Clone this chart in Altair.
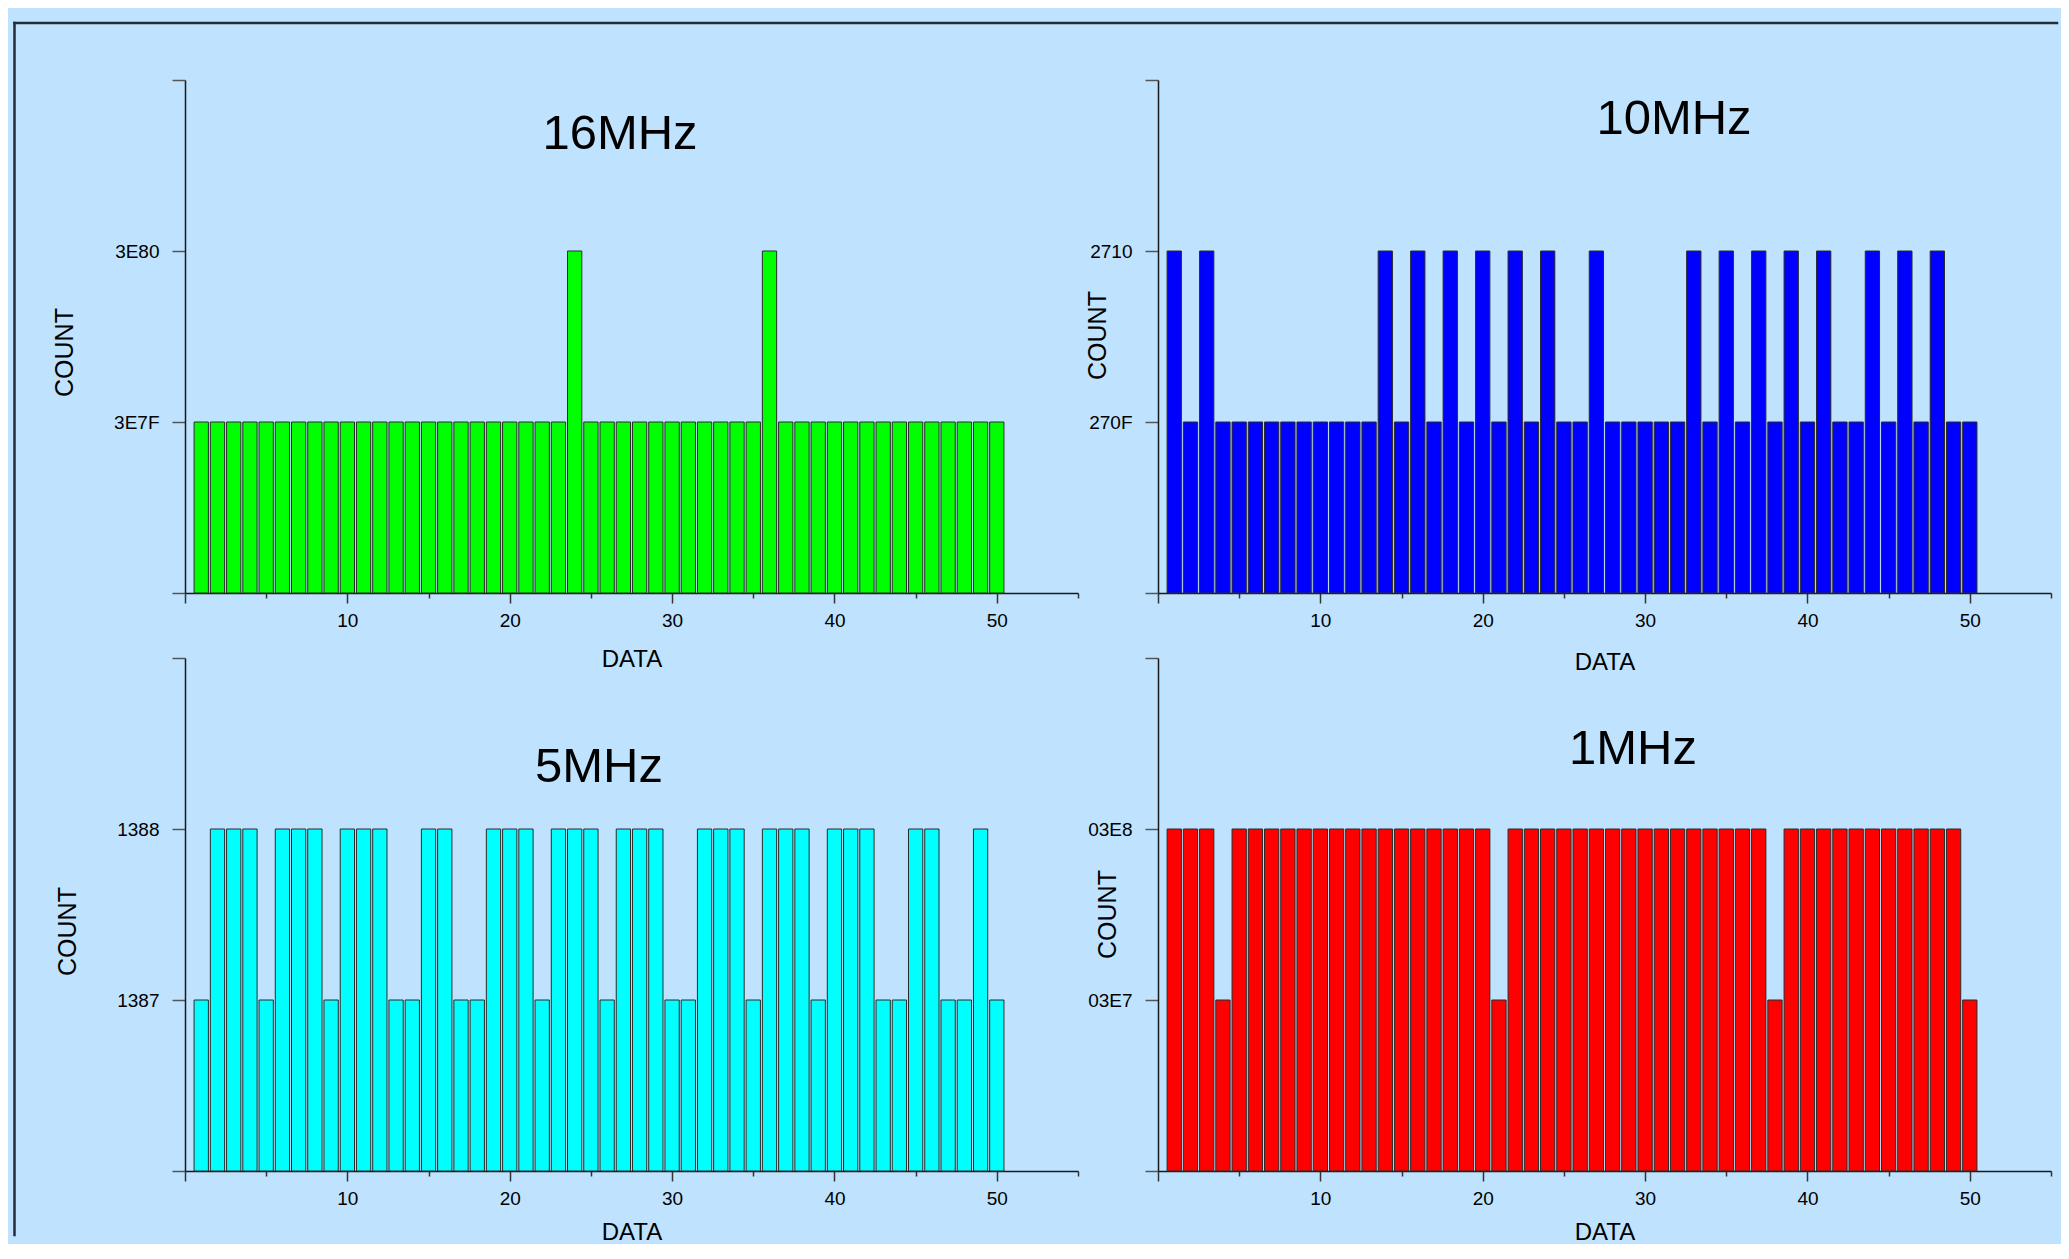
import altair as alt
import pandas as pd

# ---------------- data ----------------
data_x = list(range(1, 51))
panel_names = ["16MHz", "10MHz", "5MHz", "1MHz"]

counts_16mhz = [
    15999, 15999, 15999, 15999, 15999, 15999, 15999, 15999, 15999, 15999,
    15999, 15999, 15999, 15999, 15999, 15999, 15999, 15999, 15999, 15999,
    15999, 15999, 15999, 16000, 15999, 15999, 15999, 15999, 15999, 15999,
    15999, 15999, 15999, 15999, 15999, 16000, 15999, 15999, 15999, 15999,
    15999, 15999, 15999, 15999, 15999, 15999, 15999, 15999, 15999, 15999,
]
counts_10mhz = [
    10000, 9999, 10000, 9999, 9999, 9999, 9999, 9999, 9999, 9999,
    9999, 9999, 9999, 10000, 9999, 10000, 9999, 10000, 9999, 10000,
    9999, 10000, 9999, 10000, 9999, 9999, 10000, 9999, 9999, 9999,
    9999, 9999, 10000, 9999, 10000, 9999, 10000, 9999, 10000, 9999,
    10000, 9999, 9999, 10000, 9999, 10000, 9999, 10000, 9999, 9999,
]
counts_5mhz = [
    4999, 5000, 5000, 5000, 4999, 5000, 5000, 5000, 4999, 5000,
    5000, 5000, 4999, 4999, 5000, 5000, 4999, 4999, 5000, 5000,
    5000, 4999, 5000, 5000, 5000, 4999, 5000, 5000, 5000, 4999,
    4999, 5000, 5000, 5000, 4999, 5000, 5000, 5000, 4999, 5000,
    5000, 5000, 4999, 4999, 5000, 5000, 4999, 4999, 5000, 4999,
]
counts_1mhz = [
    1000, 1000, 1000, 999, 1000, 1000, 1000, 1000, 1000, 1000,
    1000, 1000, 1000, 1000, 1000, 1000, 1000, 1000, 1000, 1000,
    999, 1000, 1000, 1000, 1000, 1000, 1000, 1000, 1000, 1000,
    1000, 1000, 1000, 1000, 1000, 1000, 1000, 999, 1000, 1000,
    1000, 1000, 1000, 1000, 1000, 1000, 1000, 1000, 1000, 999,
]

y_ticks_16mhz = [15998, 15999, 16000, 16001]
y_labels_16mhz = ["", "3E7F", "3E80", ""]
y_ticks_10mhz = [9998, 9999, 10000, 10001]
y_labels_10mhz = ["", "270F", "2710", ""]
y_ticks_5mhz = [4998, 4999, 5000, 5001]
y_labels_5mhz = ["", "1387", "1388", ""]
y_ticks_1mhz = [998, 999, 1000, 1001]
y_labels_1mhz = ["", "03E7", "03E8", ""]

x_ticks = [0, 5, 10, 15, 20, 25, 30, 35, 40, 45, 50, 55]
x_labels = ["", "", "10", "", "20", "", "30", "", "40", "", "50", ""]

bar_colors = ["#00FF00", "#0000FF", "#00FFFF", "#FF0000"]

# ---------------- style ----------------
FONT = "Liberation Sans"
PW, PH = 893, 513
BG = "#BFE3FE"
AXIS_DARK = "#1a1a1a"


def label_expr(values, labels):
    parts = [f"datum.value == {v} ? '{l}'" for v, l in zip(values, labels)]
    return " : ".join(parts) + " : ''"


def panel(name, counts, yticks, ylabels, color, title_xy, ytitle_xy, xtitle_y, border=False):
    df = pd.DataFrame({"DATA": data_x, "COUNT": counts})
    xscale = alt.Scale(domain=[x_ticks[0], x_ticks[-1]], nice=False, zero=False)
    yscale = alt.Scale(domain=[yticks[0], yticks[-1]], nice=False, zero=False)
    xaxis = alt.Axis(
        values=x_ticks, labelExpr=label_expr(x_ticks, x_labels), title="DATA",
        grid=False, labelFlush=False, labelOverlap=False,
        tickSize={"condition": {"test": "datum.value % 10 === 0", "value": 10}, "value": 5},
        tickColor="#333333", tickWidth=1.5, domainColor=AXIS_DARK, domainWidth=1.5,
        labelFont=FONT, labelFontSize=19, labelColor="black", labelPadding=8,
        titleFont=FONT, titleFontSize=24, titleFontWeight="normal", titleColor="black",
        titleX=PW / 2, titleY=xtitle_y, titleAlign="center", titleBaseline="middle", titleAngle=0,
    )
    yaxis = alt.Axis(
        values=yticks, labelExpr=label_expr(yticks, ylabels), title="COUNT",
        grid=False, labelFlush=False, labelOverlap=False,
        tickSize=13, tickColor="#555555", tickWidth=1.5, domainColor=AXIS_DARK, domainWidth=1.5,
        labelFont=FONT, labelFontSize=19, labelColor="black", labelPadding=13,
        titleFont=FONT, titleFontSize=25, titleFontWeight="normal", titleColor="black",
        titleX=ytitle_xy[0], titleY=ytitle_xy[1], titleAngle=270,
        titleAlign="center", titleBaseline="middle",
    )
    bars = (
        alt.Chart(df)
        .transform_calculate(x0="datum.DATA - 0.44", x1="datum.DATA + 0.44")
        .mark_rect(color=color, stroke="#2b2b2b", strokeWidth=1)
        .encode(
            x=alt.X("x0:Q", scale=xscale, axis=xaxis),
            x2="x1:Q",
            y=alt.Y("COUNT:Q", scale=yscale, axis=yaxis),
            y2=alt.datum(yticks[0]),
        )
    )
    title = (
        alt.Chart(alt.Data(values=[{"name": name}]))
        .mark_text(font=FONT, fontSize=49, align="center", baseline="middle", color="black")
        .encode(text="name:N", x=alt.value(title_xy[0]), y=alt.value(title_xy[1]))
    )
    layers = [bars, title]
    if border:
        one = alt.Data(values=[{"k": 1}])
        vline = alt.Chart(one).mark_rule(color="#232c38", strokeWidth=2.5, strokeCap="square").encode(
            x=alt.value(-170.5), y=alt.value(-57), y2=alt.value(1155)
        )
        hline = alt.Chart(one).mark_rule(color="#232c38", strokeWidth=2.5, strokeCap="square").encode(
            y=alt.value(-57), x=alt.value(-170.5), x2=alt.value(1872)
        )
        layers += [vline, hline]
    return alt.layer(*layers).properties(width=PW, height=PH)


p1 = panel(panel_names[0], counts_16mhz, y_ticks_16mhz, y_labels_16mhz, bar_colors[0],
           (435, 54), (-121, 272), 66, border=True)
p2 = panel(panel_names[1], counts_10mhz, y_ticks_10mhz, y_labels_10mhz, bar_colors[1],
           (516, 39), (-61, 255), 69)
p3 = panel(panel_names[2], counts_5mhz, y_ticks_5mhz, y_labels_5mhz, bar_colors[2],
           (414, 109), (-118, 273), 61)
p4 = panel(panel_names[3], counts_1mhz, y_ticks_1mhz, y_labels_1mhz, bar_colors[3],
           (475, 91), (-51, 256), 61)

chart = (
    alt.concat(p1, p2, p3, p4, columns=2, spacing={"row": 65, "column": 80}, bounds="flush")
    .properties(background=BG, padding={"left": 4, "top": 13, "right": 2, "bottom": 0})
    .configure_view(stroke=None)
)

chart.save("out.html", embed_options={"renderer": "svg", "actions": False})
